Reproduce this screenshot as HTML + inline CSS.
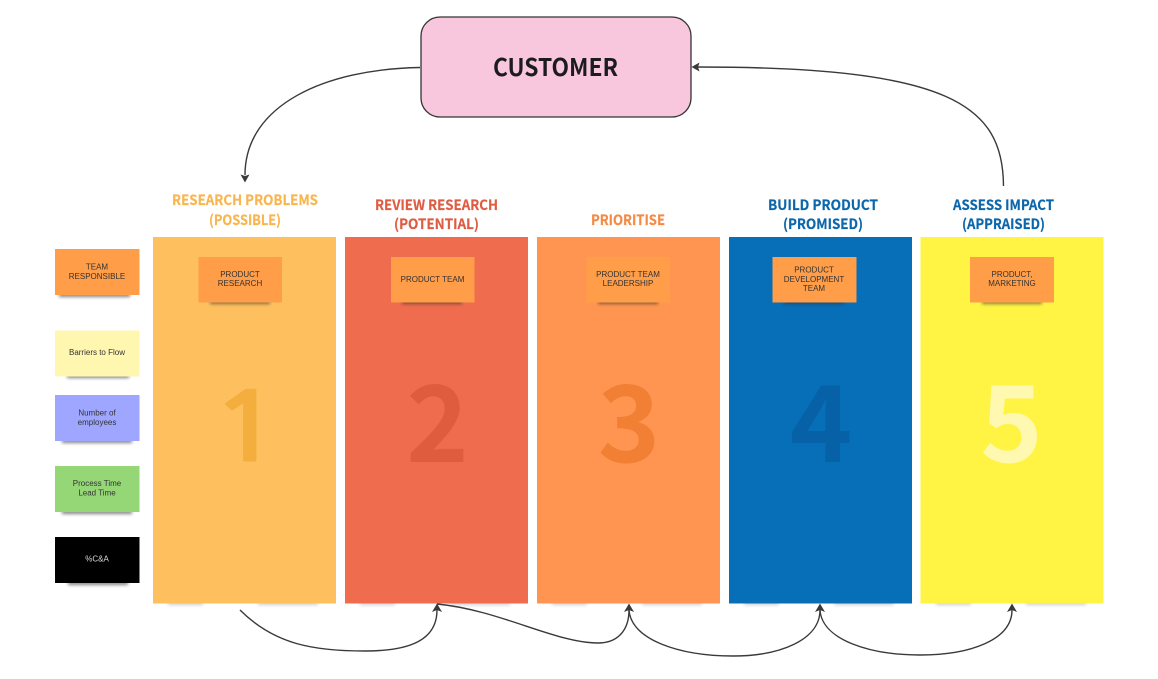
<!DOCTYPE html>
<html><head><meta charset="utf-8"><style>
html,body{margin:0;padding:0;background:#fff;width:1158px;height:679px;overflow:hidden}
svg{display:block}
.h{font-family:"Noto Sans CJK SC","DejaVu Sans",sans-serif;font-weight:700;font-size:14px}
.h text{fill:currentColor;stroke:currentColor;stroke-width:.2}
.n{font-family:"Noto Sans CJK SC","DejaVu Sans",sans-serif;font-weight:700;font-size:106px}
.s{font-family:"Liberation Sans",Arial,sans-serif;font-size:8px;fill:#333;text-anchor:middle}
.c{fill:none;stroke:#3a3a3a;stroke-width:1.4}
.a{fill:#3a3a3a}
</style></head><body>
<svg width="1158" height="679" viewBox="0 0 1158 679" xmlns="http://www.w3.org/2000/svg">
<defs><filter id="b" x="-20%" y="-400%" width="140%" height="900%"><feGaussianBlur stdDeviation="1.7"/></filter></defs>
<rect width="1158" height="679" fill="#fff"/>

<!-- column shadows -->
<g fill="#555" opacity=".28" filter="url(#b)">
<rect x="168" y="601" width="35" height="4"/><rect x="258" y="601" width="60" height="4"/>
<rect x="360" y="601" width="35" height="4"/><rect x="450" y="601" width="60" height="4"/>
<rect x="552" y="601" width="35" height="4"/><rect x="642" y="601" width="60" height="4"/>
<rect x="744" y="601" width="35" height="4"/><rect x="834" y="601" width="60" height="4"/>
<rect x="936" y="601" width="35" height="4"/><rect x="1026" y="601" width="60" height="4"/>
</g>

<!-- columns -->
<rect x="153" y="237" width="183" height="366.500" fill="#fec05f"/>
<rect x="345" y="237" width="183" height="366.500" fill="#ef6c4e"/>
<rect x="537" y="237" width="183" height="366.500" fill="#ff9550"/>
<rect x="729" y="237" width="183" height="366.500" fill="#076eb8"/>
<rect x="920.500" y="237" width="183" height="366.500" fill="#fff444"/>

<!-- numbers -->
<text transform="translate(247 461) scale(1.3 1)" text-anchor="middle" font-family="NanumGothic,'Liberation Sans',sans-serif" font-weight="700" font-size="96" fill="#f3ae3e">1</text>
<text class="n" x="437.500" y="462" text-anchor="middle" fill="#df5c3e">2</text>
<text class="n" x="629" y="462" text-anchor="middle" fill="#f18034">3</text>
<text class="n" x="821" y="462" text-anchor="middle" fill="#0661a6">4</text>
<text class="n" x="1011.500" y="462" text-anchor="middle" fill="#fff8b0">5</text>

<!-- headings -->
<g class="h">
<text x="172" y="205" style="color:#f9b54e" textLength="146" lengthAdjust="spacingAndGlyphs">RESEARCH PROBLEMS</text>
<text x="209" y="225" style="color:#f9b54e" textLength="72" lengthAdjust="spacingAndGlyphs">(POSSIBLE)</text>
<text x="375" y="210" style="color:#de5c42" textLength="123" lengthAdjust="spacingAndGlyphs">REVIEW RESEARCH</text>
<text x="394" y="229" style="color:#de5c42" textLength="85" lengthAdjust="spacingAndGlyphs">(POTENTIAL)</text>
<text x="591" y="225" style="color:#f58a45" textLength="74" lengthAdjust="spacingAndGlyphs">PRIORITISE</text>
<text x="768" y="210" style="color:#0b66ab" textLength="110" lengthAdjust="spacingAndGlyphs">BUILD PRODUCT</text>
<text x="783" y="229" style="color:#0b66ab" textLength="80" lengthAdjust="spacingAndGlyphs">(PROMISED)</text>
<text x="953" y="210" style="color:#0b66ab" textLength="101" lengthAdjust="spacingAndGlyphs">ASSESS IMPACT</text>
<text x="962" y="229" style="color:#0b66ab" textLength="83" lengthAdjust="spacingAndGlyphs">(APPRAISED)</text>
</g>

<!-- customer -->
<rect x="421" y="17" width="270" height="100" rx="19" fill="#f8c7dd" stroke="#333" stroke-width="1.300"/>
<text x="493" y="76" font-family="'Noto Sans CJK SC','DejaVu Sans',sans-serif" font-weight="700" font-size="24" fill="#1c1c1e" textLength="125" lengthAdjust="spacingAndGlyphs">CUSTOMER</text>

<!-- sticky shadows -->
<g fill="#333" opacity=".6" filter="url(#b)">
<rect x="59" y="293" width="71" height="4"/>
<rect x="67" y="374" width="62" height="4"/>
<rect x="62" y="439" width="70" height="4"/>
<rect x="62" y="510" width="70" height="4"/>
<rect x="68" y="581" width="60" height="4"/>
<rect x="210" y="300" width="60" height="4"/>
<rect x="402" y="300" width="60" height="4"/>
<rect x="598" y="300" width="60" height="4"/>
<rect x="784" y="300" width="60" height="4"/>
<rect x="982" y="300" width="60" height="4"/>
</g>

<!-- left stickies -->
<rect x="55" y="249" width="84.500" height="46" fill="#ff9d48"/>
<rect x="55" y="330.500" width="84.500" height="46" fill="#fff6b0"/>
<rect x="55" y="395" width="84.500" height="46" fill="#9ea6ff"/>
<rect x="55" y="466" width="84.500" height="46" fill="#95d677"/>
<rect x="55" y="537" width="84.500" height="46" fill="#000"/>

<!-- inner stickies -->
<rect x="198.500" y="257" width="83.500" height="45.500" fill="#ff9d48"/>
<rect x="391" y="257" width="83.500" height="45.500" fill="#ff9d48"/>
<rect x="586.500" y="257" width="83.500" height="45.500" fill="#ff9d48"/>
<rect x="772.500" y="257" width="84" height="45.500" fill="#ff9d48"/>
<rect x="970" y="257" width="84" height="45.500" fill="#ff9d48"/>

<!-- sticky text -->
<text class="s" x="97" y="269.500">TEAM</text><text class="s" x="97" y="278.800">RESPONSIBLE</text>
<text class="s" x="97" y="355">Barriers to Flow</text>
<text class="s" x="97" y="415.500">Number of</text><text class="s" x="97" y="425">employees</text>
<text class="s" x="97" y="486">Process Time</text><text class="s" x="97" y="495.300">Lead Time</text>
<text class="s" x="97" y="561.500" style="fill:#ddd">%C&amp;A</text>
<text class="s" x="240" y="277">PRODUCT</text><text class="s" x="240" y="286">RESEARCH</text>
<text class="s" x="432.500" y="282">PRODUCT TEAM</text>
<text class="s" x="628" y="277">PRODUCT TEAM</text><text class="s" x="628" y="286">LEADERSHIP</text>
<text class="s" x="814" y="272.500">PRODUCT</text><text class="s" x="814" y="281.800">DEVELOPMENT</text><text class="s" x="814" y="291">TEAM</text>
<text class="s" x="1012" y="277">PRODUCT,</text><text class="s" x="1012" y="286">MARKETING</text>

<!-- connectors -->
<path class="c" d="M420 67.500C325 69 245 105 245 175"/>
<path class="a" d="M245 182.500L240.500 174.500L245 176L249.500 174.500Z"/>
<path class="c" d="M1003.500 186C1003 105 950 67 698 67"/>
<path class="a" d="M691.500 67L699.500 62.500L698 67L699.500 71.500Z"/>
<path class="c" d="M240 610C275 645 315 651 365 651C410 651 437 640 437 610"/>
<path class="c" d="M437 604C500 610 555 643 598 643C618 643 629 630 629 610"/>
<path class="c" d="M629 610C631 640 680 656 733 656C780 656 820 640 820 610"/>
<path class="c" d="M820 610C822 640 870 655 920 655C970 655 1012 640 1012 610"/>
<g class="a">
<path d="M437 603.500L432 612L437 610L442 612Z"/>
<path d="M629 603.500L624 612L629 610L634 612Z"/>
<path d="M820 603.500L815 612L820 610L825 612Z"/>
<path d="M1012 603.500L1007 612L1012 610L1017 612Z"/>
</g>
</svg>
</body></html>
